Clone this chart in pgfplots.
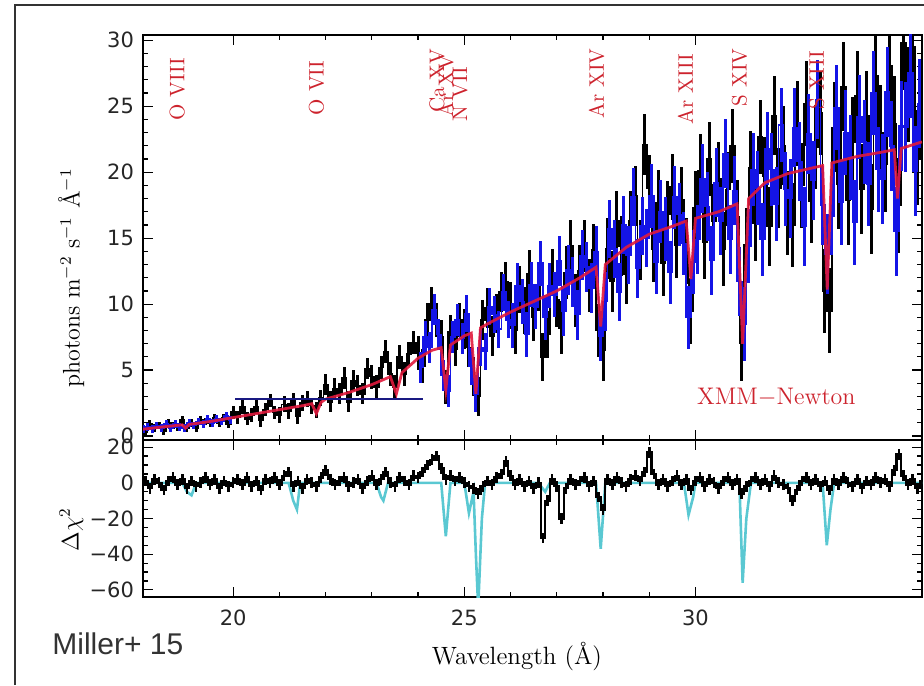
\documentclass[border=0pt]{standalone}
\usepackage{pgfplots}
\pgfplotsset{compat=1.18}
\usepackage{pgfplotstable}
\usepackage{fontspec}
\newfontfamily\arialfont{Liberation Sans}
\newfontfamily\tickfont{DejaVu Sans}
\definecolor{modred}{RGB}{225,25,60}
\definecolor{labred}{RGB}{205,35,45}
\definecolor{cyanres}{RGB}{90,200,210}
\definecolor{navyl}{RGB}{25,25,130}
\definecolor{datblue}{RGB}{20,20,230}

\pgfplotstableread{
x y e
18.0 0.6 0.3
18.1 0.3 0.3
18.2 0.9 0.3
18.3 0.6 0.3
18.4 0.8 0.3
18.5 0.4 0.3
18.6 1.0 0.3
18.7 0.8 0.3
18.8 0.7 0.3
18.9 1.2 0.3
19.0 0.6 0.3
19.1 1.0 0.3
19.2 0.6 0.3
19.3 1.2 0.3
19.4 1.1 0.3
19.5 1.0 0.3
19.6 1.4 0.3
19.7 1.0 0.3
19.8 1.4 0.3
19.9 0.9 0.3
20.0 1.8 0.5
20.1 1.4 0.5
20.2 2.2 0.5
20.3 1.3 0.5
20.4 1.6 0.5
20.5 2.2 0.5
20.6 1.2 0.5
20.7 2.0 0.5
20.8 2.7 0.5
20.9 1.8 0.5
21.0 1.6 0.6
21.1 2.4 0.6
21.2 1.9 0.6
21.3 2.7 0.6
21.4 1.5 0.6
21.5 2.5 0.6
21.6 2.8 0.6
21.7 2.3 0.6
21.8 2.0 0.6
21.9 2.9 0.6
22.0 3.9 0.8
22.1 2.6 0.8
22.2 3.6 0.8
22.3 3.2 0.8
22.4 4.4 0.8
22.5 2.6 0.8
22.6 4.2 0.8
22.7 3.8 0.8
22.8 3.2 0.8
22.9 5.1 0.8
23.0 4.5 0.9
23.1 3.7 0.9
23.2 5.2 0.9
23.3 6.4 0.9
23.4 4.7 0.9
23.5 3.7 0.9
23.6 6.0 0.9
23.7 4.7 0.9
23.8 6.2 0.9
23.9 7.1 0.9
24.0 6.3 1.3
24.1 5.3 1.3
24.2 8.8 1.3
24.3 10.0 1.3
24.4 8.8 1.3
24.5 7.5 1.3
24.6 3.7 1.3
24.7 7.9 1.3
24.8 6.6 1.3
24.9 8.8 1.3
25.0 8.1 1.5
25.1 6.7 1.5
25.2 4.5 1.5
25.3 3.0 1.5
25.4 8.8 1.5
25.5 9.7 1.5
25.6 7.6 1.5
25.7 9.3 1.5
25.8 10.9 1.5
25.9 11.7 1.5
26.0 9.9 1.8
26.1 8.0 1.8
26.2 11.1 1.8
26.3 9.5 1.8
26.4 12.3 1.8
26.5 9.0 1.8
26.6 11.3 1.8
26.7 6.0 1.8
26.8 7.7 1.8
26.9 12.4 1.8
27.0 10.3 2.0
27.1 8.2 2.0
27.2 12.4 2.0
27.3 14.4 2.0
27.4 10.3 2.0
27.5 12.5 2.0
27.6 14.4 2.0
27.7 11.4 2.0
27.8 14.1 2.0
27.9 8.0 2.0
28.0 6.5 2.3
28.1 14.2 2.3
28.2 11.7 2.3
28.3 16.3 2.3
28.4 14.4 2.3
28.5 12.3 2.3
28.6 16.3 2.3
28.7 18.2 2.3
28.8 14.1 2.3
28.9 22.1 2.3
29.0 18.8 2.5
29.1 14.2 2.5
29.2 17.7 2.5
29.3 13.1 2.5
29.4 16.8 2.5
29.5 18.9 2.5
29.6 14.5 2.5
29.7 17.9 2.5
29.8 14.0 2.5
29.9 9.5 2.5
30.0 17.3 2.8
30.1 20.1 2.8
30.2 14.7 2.8
30.3 21.0 2.8
30.4 16.3 2.8
30.5 19.5 2.8
30.6 14.2 2.8
30.7 18.7 2.8
30.8 22.0 2.8
30.9 16.6 2.8
31.0 7.0 2.8
31.1 14.5 2.8
31.2 20.3 2.8
31.3 16.1 2.8
31.4 22.7 2.8
31.5 19.7 3.0
31.6 15.9 3.0
31.7 24.3 3.0
31.8 18.8 3.0
31.9 22.0 3.0
32.0 16.9 3.2
32.1 16.0 3.2
32.2 23.7 3.2
32.3 19.0 3.2
32.4 25.2 3.2
32.5 17.8 3.2
32.6 21.9 3.2
32.7 24.5 3.2
32.8 11.0 3.2
32.9 9.5 3.2
33.0 23.4 3.4
33.1 19.1 3.4
33.2 26.5 3.4
33.3 17.9 3.4
33.4 22.3 3.4
33.5 25.8 3.4
33.6 18.7 3.4
33.7 24.3 3.4
33.8 17.2 3.4
33.9 27.3 3.4
34.0 23.0 3.6
34.1 20.6 3.6
34.2 28.1 3.6
34.3 23.7 3.6
34.4 17.5 3.6
34.5 29.8 3.6
34.6 25.9 3.6
34.7 29.5 3.6
34.8 21.1 3.6
34.9 27.3 3.6
}\blackdata

\pgfplotstableread{
x y e
18.05 0.5 0.3
18.15 0.7 0.3
18.25 0.5 0.3
18.35 0.8 0.3
18.45 0.6 0.3
18.55 0.9 0.3
18.65 0.6 0.3
18.75 0.9 0.3
18.85 0.7 0.3
18.95 0.6 0.3
19.05 1.0 0.3
19.15 0.8 0.3
19.25 1.1 0.3
19.35 0.9 0.3
19.45 1.3 0.3
19.55 1.0 0.3
19.65 1.3 0.3
19.75 1.1 0.3
19.85 1.5 0.3
19.95 1.2 0.3
}\bluedataA

\pgfplotstableread{
x y e
24.05 5.2 1.2
24.15 7.5 1.2
24.25 6.7 1.2
24.35 9.6 1.2
24.45 7.7 1.2
24.55 4.6 1.2
24.65 3.4 1.2
24.75 7.5 1.2
24.85 8.8 1.2
24.95 7.4 1.2
25.05 9.3 1.4
25.15 5.3 1.4
25.25 3.2 1.4
25.35 6.7 1.4
25.45 6.4 1.4
25.55 9.8 1.4
25.65 9.2 1.4
25.75 8.1 1.4
25.85 10.9 1.4
25.95 8.8 1.4
26.05 8.4 1.7
26.15 11.4 1.7
26.25 10.2 1.7
26.35 7.7 1.7
26.45 11.5 1.7
26.55 9.8 1.7
26.65 13.1 1.7
26.75 9.0 1.7
26.85 11.4 1.7
26.95 10.7 1.7
27.05 13.3 1.9
27.15 9.5 1.9
27.25 12.6 1.9
27.35 11.7 1.9
27.45 9.2 1.9
27.55 13.7 1.9
27.65 12.8 1.9
27.75 11.2 1.9
27.85 14.0 1.9
27.95 7.6 1.9
28.05 10.2 2.2
28.15 15.7 2.2
28.25 14.2 2.2
28.35 10.9 2.2
28.45 16.0 2.2
28.55 13.7 2.2
28.65 18.1 2.2
28.75 12.7 2.2
28.85 15.9 2.2
28.95 15.0 2.2
29.05 18.2 2.4
29.15 13.2 2.4
29.25 17.0 2.4
29.35 15.7 2.4
29.45 12.4 2.4
29.55 18.1 2.4
29.65 16.8 2.4
29.75 14.6 2.4
29.85 9.0 2.4
29.95 13.2 2.4
30.05 14.9 2.6
30.15 19.5 2.6
30.25 17.4 2.6
30.35 13.3 2.6
30.45 19.2 2.6
30.55 16.3 2.6
30.65 21.4 2.6
30.75 14.9 2.6
30.85 18.6 2.6
30.95 11.7 2.6
31.05 8.5 2.8
31.15 14.4 2.8
31.25 20.2 2.8
31.35 18.8 2.8
31.45 14.9 2.8
31.55 21.8 2.8
31.65 20.2 2.8
31.75 17.6 2.8
31.85 23.6 2.8
31.95 18.7 2.8
32.05 18.0 3.0
32.15 23.4 3.0
32.25 20.8 3.0
32.35 15.9 3.0
32.45 22.9 3.0
32.55 19.4 3.0
32.65 25.5 3.0
32.75 17.5 3.0
32.85 13.8 3.0
32.95 16.7 3.0
33.05 24.9 3.2
33.15 17.7 3.2
33.25 23.0 3.2
33.35 21.1 3.2
33.45 16.2 3.2
33.55 24.2 3.2
33.65 22.3 3.2
33.75 19.1 3.2
33.85 26.0 3.2
33.95 20.2 3.2
34.05 19.5 3.4
34.15 26.1 3.4
34.25 22.0 3.4
34.35 15.5 3.4
34.45 23.5 3.4
34.55 23.4 3.4
34.65 27.5 3.4
34.75 20.1 3.4
34.85 25.2 3.4
}\bluedataB

\pgfplotstableread{
x y
18.0 0.50
18.5 0.70
18.9 0.85
18.97 0.60
19.05 0.88
19.5 1.10
20.0 1.40
20.5 1.70
21.0 2.00
21.5 2.30
21.7 2.45
21.8 1.70
21.9 2.55
22.0 2.80
22.5 3.30
23.0 3.90
23.4 4.50
23.53 3.20
23.65 4.80
24.0 5.90
24.3 6.50
24.5 6.70
24.6 3.50
24.7 6.90
25.0 7.60
25.15 7.80
25.25 3.20
25.35 8.20
25.5 8.50
26.0 9.40
26.5 10.20
27.0 11.00
27.5 12.00
27.85 12.80
27.95 8.30
28.05 13.00
28.5 14.30
29.0 15.30
29.5 15.90
29.8 16.30
29.9 11.90
30.0 16.50
30.5 17.00
30.9 17.60
31.02 7.00
31.15 18.00
31.5 19.20
32.0 19.90
32.5 20.30
32.75 20.50
32.85 11.10
32.95 20.70
33.5 21.20
34.0 21.50
34.3 21.70
34.37 18.00
34.45 21.80
34.9 22.30
}\modeldata

\pgfplotstableread{
x y
18.0 -2
18.1 1
18.2 -3
18.3 2
18.4 0
18.5 -4
18.6 1
18.7 3
18.8 -1
18.9 2
19.0 -3
19.1 1
19.2 -2
19.3 0
19.4 3
19.5 -1
19.6 2
19.7 -3
19.8 1
19.9 -2
20.0 0
20.1 2
20.2 -1
20.3 3
20.4 -2
20.5 1
20.6 -4
20.7 2
20.8 0
20.9 3
21.0 -1
21.1 4
21.2 6
21.3 -2
21.4 1
21.5 -3
21.6 2
21.7 0
21.8 -2
21.9 3
22.0 7
22.1 2
22.2 -1
22.3 1
22.4 3
22.5 -2
22.6 0
22.7 2
22.8 -3
22.9 1
23.0 4
23.1 -1
23.2 2
23.3 6
23.4 0
23.5 -2
23.6 3
23.7 1
23.8 -1
23.9 4
24.0 3
24.1 6
24.2 10
24.3 13
24.4 15
24.5 8
24.6 2
24.7 4
24.8 1
24.9 3
25.0 0
25.1 -2
25.2 -3
25.3 -6
25.4 -2
25.5 1
25.6 -1
25.7 3
25.8 5
25.9 12
26.0 4
26.1 -1
26.2 2
26.3 -2
26.4 1
26.5 -3
26.6 0
26.7 -31
26.8 -10
26.9 2
27.0 -2
27.1 -20
27.2 -3
27.3 2
27.4 -1
27.5 1
27.6 3
27.7 -2
27.8 1
27.9 -8
28.0 -15
28.1 2
28.2 -1
28.3 3
28.4 0
28.5 -2
28.6 2
28.7 4
28.8 1
28.9 6
29.0 17
29.1 5
29.2 -1
29.3 2
29.4 -2
29.5 1
29.6 4
29.7 -1
29.8 2
29.9 -4
30.0 1
30.1 3
30.2 -2
30.3 2
30.4 0
30.5 -3
30.6 1
30.7 3
30.8 -1
30.9 2
31.0 -6
31.1 -2
31.2 1
31.3 3
31.4 -1
31.5 2
31.6 -2
31.7 4
31.8 0
31.9 -1
32.0 -3
32.1 -10
32.2 -4
32.3 1
32.4 3
32.5 -1
32.6 2
32.7 -2
32.8 1
32.9 -4
33.0 2
33.1 -1
33.2 3
33.3 0
33.4 -2
33.5 2
33.6 -3
33.7 1
33.8 -1
33.9 3
34.0 0
34.1 2
34.2 -2
34.3 7
34.4 16
34.5 4
34.6 -1
34.7 2
34.8 -3
34.9 1
}\residdata

\pgfplotstableread{
x y
18.0 0
18.9 0
19.0 -5
19.1 -7
19.2 0
21.2 0
21.3 -10
21.38 -15
21.45 0
23.1 0
23.2 -8
23.25 -10
23.35 0
24.5 0
24.6 -30
24.7 0
25.0 0
25.1 -17
25.2 -5
25.25 -40
25.3 -70
25.38 -20
25.45 0
26.6 0
26.75 -5
26.85 0
27.85 0
27.95 -37
28.05 0
29.75 0
29.85 -18
29.95 -8
30.0 0
30.95 0
31.02 -56
31.1 -20
31.2 0
32.75 0
32.84 -35
32.92 -15
33.0 0
34.9 0
}\cyandata

\begin{document}
\begin{tikzpicture}
\useasboundingbox (0,0) rectangle (462pt,342.5pt);
\draw[line width=0.9pt, black!80] (7.5pt,0) -- (7.5pt,340pt) -- (462pt,340pt);

\pgfplotsset{
  myaxis/.style={
    scale only axis,
    width=389.5pt,
    xmin=18.05, xmax=34.9,
    xtick={20,25,30},
    minor x tick num=4,
    tick align=inside,
    major tick length=5pt,
    minor tick length=2.6pt,
    axis line style={line width=0.8pt},
    every tick/.style={black, line width=0.6pt},
    tick label style={font=\tickfont\fontsize{10.5}{12}\selectfont, text=black!85},
    yticklabel style={xshift=-1pt},
    clip=true,
  }
}

% ---------- top panel ----------
\begin{axis}[myaxis,
  at={(71.5pt,122.5pt)}, anchor=south west,
  height=202.5pt,
  ymin=-0.3, ymax=30.4,
  ytick={0,5,...,30},
  yticklabels={0,5,10,15,20,25,30},
  minor y tick num=4,
  xticklabels={},
  ylabel={photons m$^{-2}$ s$^{-1}$ Å$^{-1}$},
  ylabel style={at={(axis description cs:-0.092,0.4)}, anchor=center, font=\fontsize{12}{13}\selectfont},
]
\addplot[black, const plot mark mid, line width=0.8pt,
  error bars/.cd, y dir=both, y explicit, error mark=none,
  error bar style={black, line width=1.5pt}]
  table[x=x, y=y, y error=e] {\blackdata};
\addplot[datblue, const plot mark mid, line width=0.8pt,
  error bars/.cd, y dir=both, y explicit, error mark=none,
  error bar style={datblue, line width=1.5pt}]
  table[x=x, y=y, y error=e] {\bluedataA};
\addplot[datblue, const plot mark mid, line width=0.8pt,
  error bars/.cd, y dir=both, y explicit, error mark=none,
  error bar style={datblue, line width=1.5pt}]
  table[x=x, y=y, y error=e] {\bluedataB};
\addplot[modred, line width=1.4pt, opacity=0.9] table[x=x, y=y] {\modeldata};
\addplot[navyl, line width=0.9pt] coordinates {(20.05,2.8) (24.1,2.8)};

\begin{scope}[every node/.style={rotate=90, text=labred, font=\fontsize{10.5}{11}\selectfont, inner sep=0pt}]
\node[anchor=east] at (axis cs:18.79,28.7) {O VIII};
\node[anchor=east] at (axis cs:21.80,28.5) {O VII};
\node[anchor=east] at (axis cs:24.41,29.4) {Ca XV};
\node[anchor=east] at (axis cs:24.60,28.9) {Ar XV};
\node[anchor=east] at (axis cs:24.91,28.0) {N VII};
\node[anchor=east] at (axis cs:27.86,29.4) {Ar XIV};
\node[anchor=east] at (axis cs:29.78,29.0) {Ar XIII};
\node[anchor=east] at (axis cs:30.95,29.4) {S XIV};
\node[anchor=east] at (axis cs:32.62,29.2) {S XIII};
\end{scope}
\node[text=labred, font=\fontsize{12}{13}\selectfont, inner sep=0pt] at (axis cs:31.75,2.9) {XMM$-$Newton};
\end{axis}

% ---------- bottom panel ----------
\begin{axis}[myaxis,
  at={(71.5pt,44pt)}, anchor=south west,
  height=78.5pt,
  ymin=-64, ymax=24,
  ytick={-60,-40,...,20},
  yticklabels={−60,−40,−20,0,20},
  minor y tick num=3,
  xticklabels={20,25,30},
  xticklabel style={yshift=-3pt},
  xlabel={Wavelength (Å)},
  xlabel style={font=\fontsize{12.5}{13}\selectfont, at={(axis description cs:0.48,-0.38)}, anchor=center},
  ylabel={$\Delta\chi^2$},
  ylabel style={at={(axis description cs:-0.092,0.43)}, anchor=center, font=\fontsize{12}{13}\selectfont},
]
\addplot[cyanres, line width=1.3pt] table[x=x, y=y] {\cyandata};
\addplot[black, const plot mark mid, line width=1.1pt,
  error bars/.cd, y dir=both, y fixed=3, error mark=none,
  error bar style={black, line width=1.3pt}]
  table[x=x, y=y] {\residdata};
\end{axis}

\node[font=\arialfont\fontsize{15}{17}\selectfont, text=black!80, anchor=west, inner sep=0pt] at (26pt,20.5pt) {Miller+ 15};
\end{tikzpicture}
\end{document}
